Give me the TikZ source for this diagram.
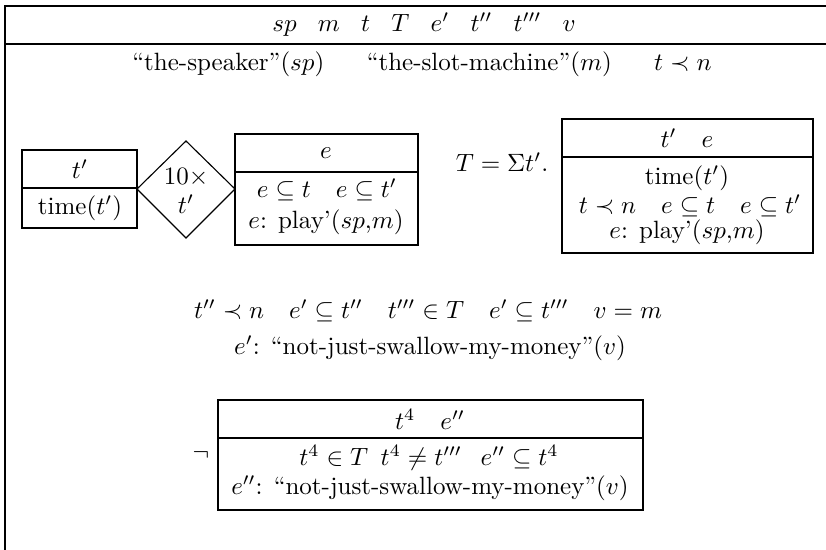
\documentclass[tikz,border=0pt]{standalone}
\usepackage{amssymb}
\begin{document}
\begin{tikzpicture}[x=0.4pt,y=-0.4pt,
  txt/.style={inner sep=0pt,anchor=center},
  frame/.style={line width=0.45pt}]
\useasboundingbox (0,0) rectangle (826,550);
% outer DRS
\draw[frame] (826,6) -- (5,6) -- (5,550);
\draw[frame] (5,44) -- (826,44);
\node[txt] (hdr) at (424,25) {$sp\hspace{8.5pt}m\hspace{8.5pt}t\hspace{8.5pt}T\hspace{8.5pt}e'\hspace{8.5pt}t''\hspace{8.5pt}t'''\hspace{8.5pt}v$};
\node[txt] (c1) at (422,64) {``the-speaker''$(sp)$\hspace{17pt}``the-slot-machine''$(m)$\hspace{17pt}$t\prec n$};
% box t'
\draw[frame] (22,150) rectangle (137,228);
\draw[frame] (22,188) -- (137,188);
\node[txt] (b1h) at (80,169) {$t'$};
\node[txt] (b1c) at (80,208) {time$(t')$};
% diamond
\draw[frame] (137,189) -- (186,141) -- (235,189) -- (186,238) -- cycle;
\node[txt] (d1) at (186,177) {$10\times$};
\node[txt] (d2) at (186,204) {$t'$};
% box e
\draw[frame] (235,134) rectangle (418,245);
\draw[frame] (235,172) -- (418,172);
\node[txt] (b2h) at (326,153) {$e$};
\node[txt] (b2c1) at (327,190) {$e\subseteq t\quad e\subseteq t'$};
\node[txt] (b2c2) at (326,222) {$e$: play'($sp$,$m$)};
% T = sum
\node[txt] (sum) at (502,162) {$T=\Sigma t'.$};
% box t' e
\draw[frame] (562,119) rectangle (813,253);
\draw[frame] (562,157) -- (813,157);
\node[txt] (b3h) at (687,138) {$t'\quad e$};
\node[txt] (b3c1) at (687,178) {time$(t')$};
\node[txt] (b3c2) at (690,206) {$t\prec n\quad e\subseteq t\quad e\subseteq t'$};
\node[txt] (b3c3) at (687,232) {$e$: play'($sp$,$m$)};
% conditions
\node[txt] (c2) at (428,311) {$t''\prec n\quad e'\subseteq t''\quad t'''\in T\quad e'\subseteq t'''\quad v=m$};
\node[txt] (c3) at (430,348) {$e'$: ``not-just-swallow-my-money''$(v)$};
% negation
\node[txt] (neg) at (201,455) {$\neg$};
\draw[frame] (218,400) rectangle (643,510);
\draw[frame] (218,438) -- (643,438);
\node[txt] (b4h) at (430,419) {$t^4\quad e''$};
\node[txt] (b4c1) at (429,458) {$t^4\in T\hspace{5pt}t^4\neq t'''\hspace{7.5pt}e''\subseteq t^4$};
\node[txt] (b4c2) at (430,488) {$e''$: ``not-just-swallow-my-money''$(v)$};
\end{tikzpicture}
\end{document}
